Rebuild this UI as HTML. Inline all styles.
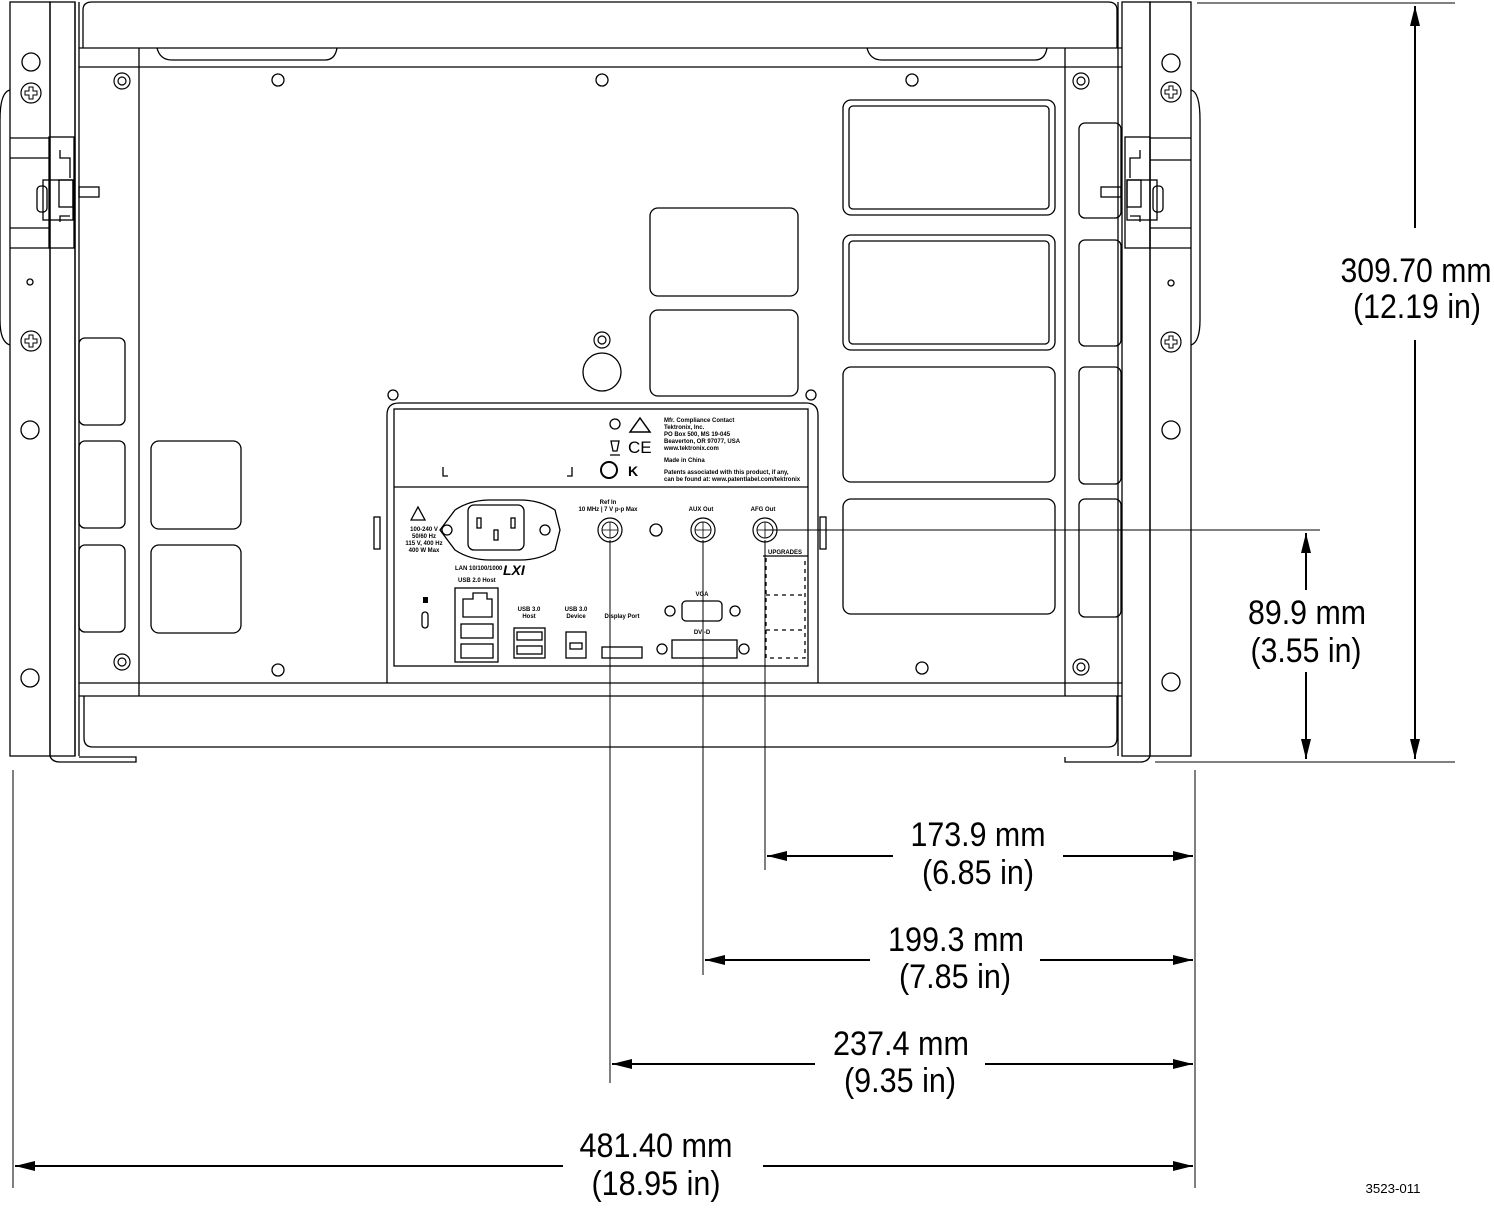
<!DOCTYPE html>
<html><head><meta charset="utf-8"><style>
html,body{margin:0;padding:0;background:#fff}
svg{display:block}
.d{font-family:"Liberation Sans",sans-serif;font-size:34px;fill:#000;text-anchor:middle}
.s{font-family:"Liberation Sans",sans-serif;font-size:6px;fill:#000;font-weight:bold}
</style></head><body>
<svg width="1494" height="1208" viewBox="0 0 1494 1208" xmlns="http://www.w3.org/2000/svg">
<defs>
<marker id="a" viewBox="0 0 20 10" refX="20" refY="5" markerWidth="20" markerHeight="10" markerUnits="userSpaceOnUse" orient="auto-start-reverse"><path d="M0,0 L20,5 L0,10 Z" fill="#000"/></marker>
<g id="scr"><circle r="8" fill="none" stroke="#000" stroke-width="1.2"/><circle r="4" fill="none" stroke="#000" stroke-width="1.2"/></g>
<g id="plus"><circle r="10" fill="none" stroke="#000" stroke-width="1.2"/><path d="M-2,-6h4v4h4v4h-4v4h-4v-4h-4v-4h4z" fill="none" stroke="#000" stroke-width="1"/></g>
<g id="bnc"><circle r="12" fill="none" stroke="#000" stroke-width="1.2"/><circle r="8" fill="none" stroke="#000" stroke-width="1"/><path d="M-8,0h16M0,-8v16" stroke="#000" stroke-width="0.8"/></g>
</defs>
<g fill="none" stroke="#000" stroke-width="1.3">
<rect x="10" y="2" width="40" height="754"/>
<path d="M10,90 Q0,92 0,120 V320 Q0,342 10,345"/>
<rect x="50" y="2" width="25" height="754"/>
<path d="M75,2 V756 M79,2 V756"/>
<path d="M50,756 Q52,762 60,762 H136 V757 H79"/>
<path d="M10,138 H49 M10,158 H49 M10,228 H49 M10,248 H49"/>
<rect x="49" y="137" width="25" height="111"/>
<rect x="43" y="180" width="30" height="40"/><rect x="59" y="180" width="14" height="27"/><rect x="37" y="186" width="10" height="26" rx="4"/><rect x="79" y="187" width="20" height="10"/>
<path d="M60,150 v8 h10 v20 M60,222 v-6 h10"/>
<circle cx="31" cy="62" r="9"/><use href="#plus" x="31" y="93"/><circle cx="30" cy="282" r="3"/><use href="#plus" x="31" y="341"/><circle cx="30" cy="430" r="9"/><circle cx="30" cy="678" r="9"/>
<rect x="1150" y="2" width="41" height="754"/>
<path d="M1191,90 Q1200,92 1200,120 V320 Q1200,342 1191,345"/>
<rect x="1122" y="2" width="28" height="754"/>
<path d="M1118,2 V756"/>
<path d="M1150,756 Q1148,762 1140,762 H1065 V757"/>
<path d="M1150,138 H1191 M1150,160 H1191 M1150,228 H1191 M1150,248 H1191"/>
<rect x="1125" y="137" width="25" height="111"/>
<rect x="1127" y="180" width="30" height="40"/><rect x="1127" y="180" width="14" height="27"/><rect x="1153" y="186" width="10" height="26" rx="4"/><rect x="1101" y="187" width="20" height="10"/>
<path d="M1140,150 v8 h-10 v20 M1140,222 v-6 h-10"/>
<circle cx="1171" cy="63" r="9"/><use href="#plus" x="1171" y="92"/><circle cx="1171" cy="283" r="3"/><use href="#plus" x="1171" y="342"/><circle cx="1171" cy="430" r="9"/><circle cx="1171" cy="682" r="9"/>
<path d="M83,48 V10 Q83,2 92,2 H1108 Q1117,2 1117,10 V48"/>
<path d="M79,48 H1122 M79,67 H1122"/>
<path d="M157,48 Q160,60 172,60 H325 Q335,60 337,48 M867,48 Q870,60 882,60 H1035 Q1045,60 1047,48"/>
<path d="M139,48 V696 M1065,48 V696"/>
<path d="M79,683 H1122 M79,696 H1122"/>
<path d="M84,696 V738 Q84,747 93,747 H1108 Q1117,747 1117,738 V696"/>
<use href="#scr" x="122" y="81"/><use href="#scr" x="1081" y="81"/><use href="#scr" x="122" y="662"/><use href="#scr" x="1081" y="667"/><use href="#scr" x="602" y="340"/>
<circle cx="278" cy="80" r="6"/><circle cx="602" cy="80" r="6"/><circle cx="912" cy="80" r="6"/><circle cx="278" cy="670" r="6"/><circle cx="922" cy="668" r="6"/><circle cx="393" cy="395" r="5"/><circle cx="811" cy="395" r="5"/>
<circle cx="602" cy="372" r="19"/>
<rect x="843" y="100" width="212" height="115" rx="8"/><rect x="849" y="106" width="200" height="103" rx="4"/>
<rect x="843" y="235" width="212" height="115" rx="8"/><rect x="849" y="241" width="200" height="103" rx="4"/>
<rect x="843" y="367" width="212" height="115" rx="8"/>
<rect x="843" y="499" width="212" height="115" rx="8"/>
<rect x="1079" y="123" width="42" height="95" rx="6"/><rect x="1079" y="240" width="42" height="106" rx="6"/><rect x="1079" y="367" width="42" height="117" rx="6"/><rect x="1079" y="499" width="42" height="118" rx="6"/>
<rect x="79" y="338" width="46" height="87" rx="6"/><rect x="79" y="441" width="46" height="87" rx="6"/><rect x="79" y="545" width="46" height="87" rx="6"/>
<rect x="151" y="441" width="90" height="88" rx="8"/><rect x="151" y="545" width="90" height="88" rx="8"/>
<rect x="650" y="208" width="148" height="88" rx="8"/><rect x="650" y="310" width="148" height="86" rx="8"/>
<path d="M387,683 V415 Q387,403 399,403 H806 Q818,403 818,415 V683"/>
<rect x="394" y="409" width="414" height="257"/>
<path d="M394,487 H808"/>
<rect x="374" y="517" width="6" height="32"/><rect x="820" y="517" width="6" height="32"/>
<path d="M443,467 v9 h5 M572,467 v9 h-5"/>
<path d="M455,510 Q470,500 490,500 H520 Q540,500 555,510 L560,530 L555,550 Q540,560 520,560 H490 Q470,560 455,550 L440,530 Z"/>
<circle cx="447" cy="530" r="5"/><circle cx="545" cy="530" r="5"/>
<rect x="468" y="505" width="56" height="45" rx="6"/>
<rect x="477" y="518" width="4" height="10"/><rect x="511" y="518" width="4" height="10"/><rect x="494" y="530" width="4" height="10"/>
<path d="M411,520 L418,507 L425,520 Z"/>
<rect x="455" y="588" width="43" height="74"/>
<path d="M463,617 V599 H473 V593 H487 V599 H492 V617 Z"/>
<rect x="461" y="624" width="32" height="14"/><rect x="461" y="644" width="32" height="14"/>
<rect x="514" y="628" width="31" height="30"/><rect x="517" y="632" width="25" height="8"/><rect x="517" y="646" width="25" height="8"/>
<rect x="566" y="632" width="20" height="26"/><rect x="570" y="643" width="12" height="6"/>
<rect x="602" y="647" width="40" height="11"/>
<rect x="682" y="601" width="40" height="20" rx="4"/><circle cx="670" cy="611" r="5"/><circle cx="735" cy="611" r="5"/>
<rect x="672" y="640" width="65" height="18"/><circle cx="662" cy="649" r="5"/><circle cx="744" cy="649" r="5"/>
<rect x="422" y="612" width="6" height="16" rx="3"/>
<path d="M766,558 V658 H805 V558" stroke-dasharray="4,4"/>
<path d="M766,595 H805 M766,630 H805" stroke-dasharray="4,4"/>
<path d="M763,556 H808"/>
<use href="#bnc" x="610" y="530"/><use href="#bnc" x="703" y="530"/><use href="#bnc" x="765" y="530"/><circle cx="656" cy="530" r="6"/>
<circle cx="609" cy="470" r="8" stroke-width="2"/>
<path d="M630,432 L640,418 L650,432 Z" stroke-width="1.5"/>
<circle cx="615" cy="424" r="5"/>
<path d="M611,441 h8 l-2,10 h-4 z M610,455 h10"/>
</g>
<g fill="#000">
<text class="s" x="424" y="531" text-anchor="middle">100-240 V</text>
<text class="s" x="424" y="538" text-anchor="middle">50/60 Hz</text>
<text class="s" x="424" y="545" text-anchor="middle">115 V, 400 Hz</text>
<text class="s" x="424" y="552" text-anchor="middle">400 W Max</text>
<text class="s" x="455" y="570">LAN 10/100/1000</text>
<text x="503" y="575" font-family="Liberation Sans" font-weight="bold" font-style="italic" font-size="14">LXI</text>
<text class="s" x="458" y="582">USB 2.0 Host</text>
<rect x="423" y="597" width="5" height="6"/>
<text class="s" x="529" y="611" text-anchor="middle">USB 3.0</text><text class="s" x="529" y="618" text-anchor="middle">Host</text>
<text class="s" x="576" y="611" text-anchor="middle">USB 3.0</text><text class="s" x="576" y="618" text-anchor="middle">Device</text>
<text class="s" x="622" y="618" text-anchor="middle">Display Port</text>
<text class="s" x="702" y="596" text-anchor="middle">VGA</text>
<text class="s" x="702" y="634" text-anchor="middle">DVI-D</text>
<text class="s" x="608" y="504" text-anchor="middle">Ref In</text>
<text class="s" x="608" y="511" text-anchor="middle">10 MHz | 7 V p-p Max</text>
<text class="s" x="701" y="511" text-anchor="middle">AUX Out</text>
<text class="s" x="763" y="511" text-anchor="middle">AFG Out</text>
<text class="s" x="785" y="554" text-anchor="middle">UPGRADES</text>
<text class="s" x="664" y="422">Mfr. Compliance Contact</text>
<text class="s" x="664" y="429">Tektronix, Inc.</text>
<text class="s" x="664" y="436">PO Box 500, MS 19-045</text>
<text class="s" x="664" y="443">Beaverton, OR 97077, USA</text>
<text class="s" x="664" y="450">www.tektronix.com</text>
<text class="s" x="664" y="462">Made in China</text>
<text class="s" x="664" y="474">Patents associated with this product, if any,</text>
<text class="s" x="664" y="481">can be found at: www.patentlabel.com/tektronix</text>
<text x="628" y="453" font-family="Liberation Sans" font-size="17">CE</text>
<text x="628" y="476" font-family="Liberation Sans" font-weight="bold" font-size="14">K</text>
</g>
<g stroke="#000" fill="none" stroke-width="1">
<path d="M1197,3 H1455 M1155,762 H1455"/>
<path d="M765,530 H1320"/>
<path d="M1195,770 V1188 M13,770 V1188"/>
<path d="M765,540 V870 M703,540 V975 M610,540 V1083"/>
</g>
<g stroke="#000" stroke-width="2" fill="none">
<path d="M1415,6 V228" marker-start="url(#a)"/><path d="M1415,340 V759" marker-end="url(#a)"/>
<path d="M1306,533 V590" marker-start="url(#a)"/><path d="M1306,672 V759" marker-end="url(#a)"/>
<path d="M767,856 H893" marker-start="url(#a)"/><path d="M1063,856 H1193" marker-end="url(#a)"/>
<path d="M705,960 H870" marker-start="url(#a)"/><path d="M1040,960 H1193" marker-end="url(#a)"/>
<path d="M612,1064 H815" marker-start="url(#a)"/><path d="M985,1064 H1193" marker-end="url(#a)"/>
<path d="M15,1166 H563" marker-start="url(#a)"/><path d="M763,1166 H1193" marker-end="url(#a)"/>
</g>
<text class="d" x="1416" y="282" textLength="151" lengthAdjust="spacingAndGlyphs">309.70 mm</text><text class="d" x="1417" y="318" textLength="128" lengthAdjust="spacingAndGlyphs">(12.19 in)</text>
<text class="d" x="1307" y="624" textLength="118" lengthAdjust="spacingAndGlyphs">89.9 mm</text><text class="d" x="1306" y="662" textLength="111" lengthAdjust="spacingAndGlyphs">(3.55 in)</text>
<text class="d" x="978" y="846" textLength="135" lengthAdjust="spacingAndGlyphs">173.9 mm</text><text class="d" x="978" y="884" textLength="112" lengthAdjust="spacingAndGlyphs">(6.85 in)</text>
<text class="d" x="956" y="951" textLength="136" lengthAdjust="spacingAndGlyphs">199.3 mm</text><text class="d" x="955" y="988" textLength="112" lengthAdjust="spacingAndGlyphs">(7.85 in)</text>
<text class="d" x="901" y="1055" textLength="136" lengthAdjust="spacingAndGlyphs">237.4 mm</text><text class="d" x="900" y="1092" textLength="112" lengthAdjust="spacingAndGlyphs">(9.35 in)</text>
<text class="d" x="656" y="1157" textLength="153" lengthAdjust="spacingAndGlyphs">481.40 mm</text><text class="d" x="656" y="1195" textLength="129" lengthAdjust="spacingAndGlyphs">(18.95 in)</text>
<text x="1393" y="1193" font-family="Liberation Sans,sans-serif" font-size="13" text-anchor="middle" textLength="55" lengthAdjust="spacingAndGlyphs">3523-011</text>
</svg>
</body></html>
